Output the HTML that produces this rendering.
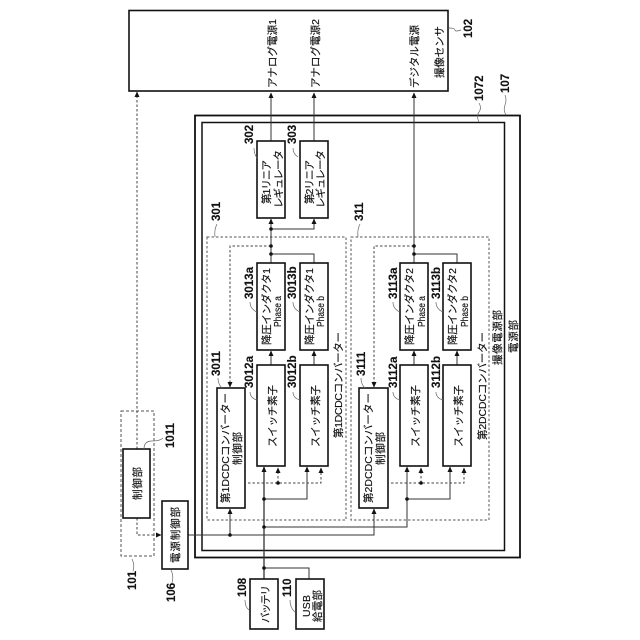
<!DOCTYPE html>
<html><head><meta charset="utf-8"><style>
html,body{margin:0;padding:0;background:#fff}
svg{display:block}
text{font-family:"Liberation Sans","Noto Sans CJK JP",sans-serif;fill:#111;stroke:#111;stroke-width:.15}
.t{font-size:10.5px}
.n{font-size:11.500px;font-weight:bold}
.b{fill:#fff;stroke:#111;stroke-width:1.6}
.l{fill:none;stroke:#333;stroke-width:1}
.d{fill:none;stroke:#444;stroke-width:1;stroke-dasharray:2.5 2}
.w{fill:none;stroke:#666;stroke-width:.7}
</style></head><body>
<svg width="640" height="640" viewBox="0 0 640 640" xmlns="http://www.w3.org/2000/svg">
<defs>
<marker id="a" markerWidth="6" markerHeight="6" refX="5" refY="3" orient="auto" markerUnits="userSpaceOnUse"><path d="M0,.5 L5.5,3 L0,5.5 Z" fill="#111"/></marker>
</defs>

<!-- outer boxes -->
<rect class="b" x="129" y="10.500" width="319" height="80.500"/>
<rect x="195" y="115.500" width="325" height="442" fill="none" stroke="#111" stroke-width="1.800"/>
<rect x="202" y="122.500" width="302.500" height="428" fill="none" stroke="#111" stroke-width="1.500"/>
<rect x="207" y="237" width="139" height="283" fill="none" stroke="#555" stroke-width="1" stroke-dasharray="2.500 2"/>
<rect x="351" y="237" width="138" height="283" fill="none" stroke="#555" stroke-width="1" stroke-dasharray="2.500 2"/>
<rect x="121" y="411" width="33" height="145" fill="none" stroke="#555" stroke-width="1" stroke-dasharray="3 2"/>

<!-- connectors: upper outputs -->
<path class="l" d="M271,141V93" marker-end="url(#a)"/>
<path class="l" d="M314,141V93" marker-end="url(#a)"/>
<path class="l" d="M414,263V93" marker-end="url(#a)"/>
<path class="l" d="M271,263V219" marker-end="url(#a)"/>
<path class="l" d="M271,229H314V219" marker-end="url(#a)"/>
<path class="l" d="M271,254H314V263"/>
<path class="l" d="M414,254H457V263"/>
<path class="l" d="M271,365V351" marker-end="url(#a)"/>
<path class="l" d="M314,365V351" marker-end="url(#a)"/>
<path class="l" d="M414,365V351" marker-end="url(#a)"/>
<path class="l" d="M457,365V351" marker-end="url(#a)"/>

<!-- feedback dashed -->
<path class="d" d="M271,246H230V387" marker-end="url(#a)"/>
<path class="d" d="M414,246H374V387" marker-end="url(#a)"/>

<!-- control dashed -->
<path class="d" d="M248,483H321V468" marker-end="url(#a)"/>
<path class="d" d="M278,483V468" marker-end="url(#a)"/>
<path class="d" d="M391,483H464V468" marker-end="url(#a)"/>
<path class="d" d="M421,483V468" marker-end="url(#a)"/>

<!-- power rails -->
<path class="l" style="stroke-width:1.300" d="M264,579V467" marker-end="url(#a)"/>
<path class="l" d="M264,499H307V467" marker-end="url(#a)"/>
<path class="l" d="M264,527H407V467" marker-end="url(#a)"/>
<path class="l" d="M407,499H450V467" marker-end="url(#a)"/>
<path class="l" d="M264,568H309V579"/>

<!-- control rail -->
<path class="l" d="M188,535H374V509" marker-end="url(#a)"/>
<path class="l" d="M230,535V509" marker-end="url(#a)"/>
<path class="d" d="M137,449V92" marker-end="url(#a)"/>
<path class="d" d="M137,518V535H161" marker-end="url(#a)"/>

<!-- nodes -->
<g fill="#111">
<circle cx="271" cy="229" r="1.800"/><circle cx="271" cy="246" r="1.800"/><circle cx="271" cy="254" r="1.800"/>
<circle cx="414" cy="246" r="1.800"/><circle cx="414" cy="254" r="1.800"/>
<circle cx="278" cy="483" r="1.800"/><circle cx="421" cy="483" r="1.800"/>
<circle cx="264" cy="499" r="1.800"/><circle cx="407" cy="499" r="1.800"/>
<circle cx="264" cy="527" r="1.800"/><circle cx="230" cy="535" r="1.800"/><circle cx="264" cy="568" r="1.800"/>
</g>

<!-- boxes -->
<rect class="b" x="257" y="141" width="28" height="77"/>
<rect class="b" x="300" y="141" width="28" height="77"/>
<rect class="b" x="257" y="263" width="28" height="87"/>
<rect class="b" x="300" y="263" width="28" height="87"/>
<rect class="b" x="400" y="263" width="28" height="87"/>
<rect class="b" x="443" y="263" width="28" height="87"/>
<rect class="b" x="257" y="365" width="28" height="101"/>
<rect class="b" x="300" y="365" width="28" height="101"/>
<rect class="b" x="400" y="365" width="28" height="101"/>
<rect class="b" x="443" y="365" width="28" height="101"/>
<rect class="b" x="217" y="388" width="28" height="120"/>
<rect class="b" x="359" y="388" width="29" height="120"/>
<rect class="b" x="123" y="449" width="27" height="69"/>
<rect class="b" x="162" y="501" width="26" height="68"/>
<rect class="b" x="250" y="579" width="28" height="50"/>
<rect class="b" x="296" y="579" width="28" height="50"/>

<!-- leaders -->
<path class="w" d="M449,28q6,0 6,2t6,0"/>
<path class="w" d="M479,103q3,5 0,9t0,10"/>
<path class="w" d="M505,95q2,5 0,10t1,10"/>
<path class="w" d="M254,148q0,6 3,10"/>
<path class="w" d="M293,148q0,6 5,9"/>
<path class="w" d="M217,224q-3,6 -2,13"/>
<path class="w" d="M360,224q-3,6 -2,13"/>
<path class="w" d="M250,302q0,7 7,10"/>
<path class="w" d="M293,302q0,7 7,10"/>
<path class="w" d="M393,302q0,7 7,10"/>
<path class="w" d="M436,302q0,7 7,10"/>
<path class="w" d="M250,392q0,6 7,8"/>
<path class="w" d="M293,392q0,6 7,8"/>
<path class="w" d="M393,392q0,6 7,8"/>
<path class="w" d="M436,392q0,6 7,8"/>
<path class="w" d="M218,378q0,6 4,10"/>
<path class="w" d="M361,378q0,6 4,10"/>
<path class="w" d="M144,449q0,-8 8,-8t11,-3"/>
<path class="w" d="M132,559q3,6 1,12"/>
<path class="w" d="M171,570q3,6 1,13"/>
<path class="w" d="M245,600q0,7 4,10"/>
<path class="w" d="M290,600q0,8 5,12"/>

<!-- labels -->
<g class="t">
<text transform="translate(276,88) rotate(-90)" textLength="69">アナログ電源1</text>
<text transform="translate(319,88) rotate(-90)" textLength="69">アナログ電源2</text>
<text transform="translate(418,88) rotate(-90)" textLength="63">デジタル電源</text>
<text transform="translate(443,78) rotate(-90)" textLength="52">撮像センサ</text>
<text transform="translate(270,204) rotate(-90)" textLength="44">第1リニア</text>
<text transform="translate(282,208) rotate(-90)" textLength="58">レギュレータ</text>
<text transform="translate(313,204) rotate(-90)" textLength="44">第2リニア</text>
<text transform="translate(324,208) rotate(-90)" textLength="58">レギュレータ</text>
<text transform="translate(270,345) rotate(-90)" textLength="77">降圧インダクタ1</text>
<text transform="translate(281,327) rotate(-90)" textLength="31" lengthAdjust="spacingAndGlyphs">Phase a</text>
<text transform="translate(313,345) rotate(-90)" textLength="77">降圧インダクタ1</text>
<text transform="translate(324,327) rotate(-90)" textLength="31" lengthAdjust="spacingAndGlyphs">Phase b</text>
<text transform="translate(413,345) rotate(-90)" textLength="77">降圧インダクタ2</text>
<text transform="translate(425,327) rotate(-90)" textLength="31" lengthAdjust="spacingAndGlyphs">Phase a</text>
<text transform="translate(456,345) rotate(-90)" textLength="77">降圧インダクタ2</text>
<text transform="translate(468,327) rotate(-90)" textLength="31" lengthAdjust="spacingAndGlyphs">Phase b</text>
<text transform="translate(276,447) rotate(-90)" textLength="62">スイッチ素子</text>
<text transform="translate(319,447) rotate(-90)" textLength="62">スイッチ素子</text>
<text transform="translate(419,447) rotate(-90)" textLength="62">スイッチ素子</text>
<text transform="translate(462,447) rotate(-90)" textLength="62">スイッチ素子</text>
<text transform="translate(229,503) rotate(-90)" textLength="110">第1DCDCコンバーター</text>
<text transform="translate(241,465) rotate(-90)" textLength="33">制御部</text>
<text transform="translate(372,503) rotate(-90)" textLength="110">第2DCDCコンバーター</text>
<text transform="translate(384,465) rotate(-90)" textLength="33">制御部</text>
<text transform="translate(342,438) rotate(-90)" textLength="106">第1DCDCコンバーター</text>
<text transform="translate(486,440) rotate(-90)" textLength="108">第2DCDCコンバーター</text>
<text transform="translate(501,365) rotate(-90)" textLength="55">撮像電源部</text>
<text transform="translate(517,353) rotate(-90)" textLength="33">電源部</text>
<text transform="translate(141,500) rotate(-90)" textLength="33">制御部</text>
<text transform="translate(179,563) rotate(-90)" textLength="56">電源制御部</text>
<text transform="translate(269,623) rotate(-90)" textLength="38">バッテリ</text>
<text transform="translate(310,617) rotate(-90)" textLength="22">USB</text>
<text transform="translate(321,622) rotate(-90)" textLength="32">給電部</text>
</g>
<g class="n">
<text transform="translate(472,38) rotate(-90)">102</text>
<text transform="translate(483,101) rotate(-90)">1072</text>
<text transform="translate(509,93) rotate(-90)">107</text>
<text transform="translate(253,144) rotate(-90)">302</text>
<text transform="translate(296,144) rotate(-90)">303</text>
<text transform="translate(220,221) rotate(-90)">301</text>
<text transform="translate(363,221) rotate(-90)">311</text>
<text transform="translate(253,299) rotate(-90)">3013a</text>
<text transform="translate(296,299) rotate(-90)">3013b</text>
<text transform="translate(397,299) rotate(-90)">3113a</text>
<text transform="translate(440,299) rotate(-90)">3113b</text>
<text transform="translate(253,388) rotate(-90)">3012a</text>
<text transform="translate(296,388) rotate(-90)">3012b</text>
<text transform="translate(397,388) rotate(-90)">3112a</text>
<text transform="translate(440,388) rotate(-90)">3112b</text>
<text transform="translate(220,376) rotate(-90)">3011</text>
<text transform="translate(365,376) rotate(-90)">3111</text>
<text transform="translate(174,448) rotate(-90)">1011</text>
<text transform="translate(136,590) rotate(-90)">101</text>
<text transform="translate(175,602) rotate(-90)">106</text>
<text transform="translate(246,597) rotate(-90)">108</text>
<text transform="translate(291,597) rotate(-90)">110</text>
</g>
</svg>
</body></html>
